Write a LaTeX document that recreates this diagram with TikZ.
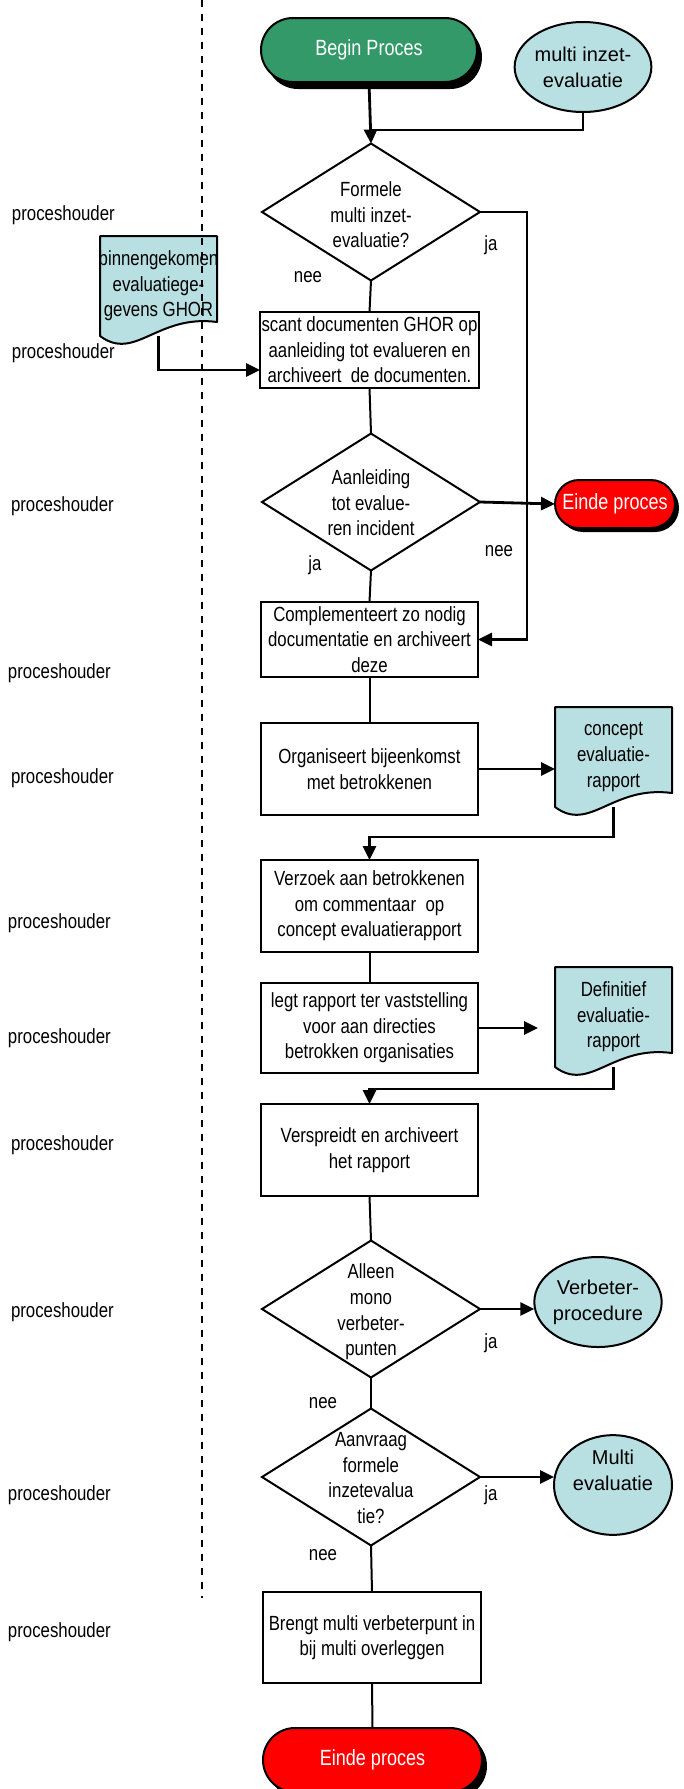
\documentclass[tikz,border=0pt]{standalone}
\usepackage{fontspec}
\setmainfont{Liberation Sans}
\newfontfamily\narrowfam[FakeStretch=0.82]{Liberation Sans}
\usetikzlibrary{shapes.geometric,shapes.misc,arrows.meta,shadows,calc}
\pgfdeclarelayer{background}
\pgfsetlayers{background,main}
\definecolor{procgreen}{RGB}{52,153,104}
\definecolor{docblue}{RGB}{184,223,226}
\definecolor{endred}{RGB}{255,0,0}
\newcommand{\narfont}{\narrowfam\fontsize{20.5}{25.6}\selectfont}
\newcommand{\termfont}{\narrowfam\fontsize{22}{26}\selectfont}
\newcommand{\regfont}{\fontsize{20}{26}\selectfont}
\newcommand{\docshape}[1]{%
  \begin{pgfonlayer}{background}
  \draw[line width=2pt, fill=docblue, line join=round]
    (#1.north west) -- (#1.north east) -- ($(#1.south east)+(0,-14)$)
    .. controls ($(#1.south east)+(-60,-22)$) and ($(#1.south west)+(35,26)$) ..
    (#1.south west) -- cycle;
  \end{pgfonlayer}}
\begin{document}
\begin{tikzpicture}[x=1pt,y=-1pt,
  every node/.style={inner sep=0pt, outer sep=0pt},
  stepbox/.style={draw, line width=2pt, rectangle, minimum width=217pt, font=\narfont, align=center},
  decision/.style={draw, line width=2pt, diamond, minimum width=218pt, minimum height=137pt},
  dtext/.style={font=\narfont, align=center},
  terminal/.style={rounded rectangle, draw, line width=2pt, font=\termfont, text=white},
  docnode/.style={minimum width=117pt, minimum height=100pt, font=\narfont, align=center},
  ellnode/.style={ellipse, draw, line width=2pt, fill=docblue, minimum width=118pt, minimum height=90pt, font=\regfont, align=center},
  conn/.style={line width=2pt},
  arr/.style={line width=2.8pt, -{Triangle[length=14pt,width=13pt]}},
  lbl/.style={font=\narfont},
  lane/.style={font=\narfont, anchor=west},
  swim/.style={line width=1.6pt, dash pattern=on 7pt off 7pt},
]
\useasboundingbox (0,0) rectangle (684,1789);

% swimlane divider
\coordinate (sl0) at (202,0);
\coordinate (sl1) at (202,1598);
\draw[swim] (sl0) -- (sl1);

% lane labels
\node[lane] (p1) at (12,215) {proceshouder};
\node[lane] (p2) at (12,353) {proceshouder};
\node[lane] (p3) at (11,506) {proceshouder};
\node[lane] (p4) at (8,673) {proceshouder};
\node[lane] (p5) at (11,778) {proceshouder};
\node[lane] (p6) at (8,923) {proceshouder};
\node[lane] (p7) at (8,1038) {proceshouder};
\node[lane] (p8) at (11,1145) {proceshouder};
\node[lane] (p9) at (11,1312) {proceshouder};
\node[lane] (p10) at (8,1495) {proceshouder};
\node[lane] (p11) at (8,1632) {proceshouder};

% start
\node[terminal, fill=procgreen, minimum width=216pt, minimum height=64pt,
  drop shadow={shadow xshift=5pt, shadow yshift=-7pt, fill=black, opacity=1}] (begin) at (369,50) {Begin Proces};
\node[ellnode] (mie) at (583,67) {multi inzet-\\evaluatie};

% decision 1
\node[decision] (d1) at (371,212) {};
\node[dtext] (d1t) at (371,215) {Formele\\multi inzet-\\evaluatie?};

% document 1
\node[docnode] (doc1) at (158.5,286) {\makebox[117pt]{binnengekomen}\\evaluatiege-\\gevens GHOR};
\docshape{doc1}

% box 1
\node[stepbox, minimum width=219pt, minimum height=76pt] (box1) at (369.5,350) {\makebox[219pt]{scant documenten GHOR op}\\aanleiding tot evalueren en\\archiveert\ \ de documenten.};

% decision 2
\node[decision] (d2) at (371,502) {};
\node[dtext] (d2t) at (371,503) {Aanleiding\\tot evalue-\\ren incident};
\node[terminal, fill=endred, minimum width=120pt, minimum height=48pt,
  drop shadow={shadow xshift=4pt, shadow yshift=-4pt, fill=black, opacity=1}] (end1) at (615,504) {Einde proces};

% box 2
\node[stepbox, minimum height=75pt] (box2) at (369.5,639.5) {Complementeert zo nodig\\documentatie en archiveert\\deze};

% box 3
\node[stepbox, minimum height=92pt] (box3) at (369.5,769) {Organiseert bijeenkomst\\met betrokkenen};
\node[docnode] (cdoc) at (613.5,757) {concept\\evaluatie-\\rapport};
\docshape{cdoc}

% box 4
\node[stepbox, minimum height=92pt] (box4) at (369.5,906) {Verzoek aan betrokkenen\\om commentaar\ \ op\\concept evaluatierapport};

% box 5
\node[stepbox, minimum height=90pt] (box5) at (369.5,1028) {legt rapport ter vaststelling\\voor aan directies\\betrokken organisaties};
\node[docnode] (ddoc) at (613.5,1017) {Definitief\\evaluatie-\\rapport};
\docshape{ddoc}

% box 6
\node[stepbox, minimum height=92pt] (box6) at (369.5,1150) {Verspreidt en archiveert\\het rapport};

% decision 3
\node[decision] (d3) at (371,1309) {};
\node[dtext] (d3t) at (371,1312) {Alleen\\mono\\verbeter-\\punten};
\node[ellnode] (verb) at (598,1302) {Verbeter-\\procedure};

% decision 4
\node[decision] (d4) at (371,1477) {};
\node[dtext] (d4t) at (371,1478) {Aanvraag\\formele\\inzetevalua\\tie?};
\node[ellnode] (multi) at (613,1485) {Multi\\evaluatie\\[4pt]};

% box 7
\node[stepbox, minimum width=218pt, minimum height=91pt] (box7) at (372,1637.5) {\makebox[218pt]{Brengt multi verbeterpunt in}\\bij multi overleggen};

% end
\node[terminal, fill=endred, minimum width=219pt, minimum height=64pt,
  drop shadow={shadow xshift=5pt, shadow yshift=-6pt, fill=black, opacity=1}] (end2) at (372.5,1760) {Einde proces};

% yes/no labels
\node[lbl] (ja1) at (491,245) {ja};
\node[lbl] (nee1) at (308,277) {nee};
\node[lbl] (nee2) at (499,551) {nee};
\node[lbl] (ja2) at (315,565) {ja};
\node[lbl] (ja3) at (491,1343) {ja};
\node[lbl] (nee3) at (323,1403) {nee};
\node[lbl] (ja4) at (491,1495) {ja};
\node[lbl] (nee4) at (323,1555) {nee};

% connectors
\coordinate (j0) at (371,130);
\draw[arr] (begin.south) -- (d1.north);
\draw[line width=2.8pt] (mie.south) |- (j0);
\draw[conn] (d1.south) -- (box1.north);
\coordinate (jr) at (527,212);
\draw[arr] (d1.east) -- (jr) |- (box2.east);
\coordinate (b1in) at ($(box1.south west)+(0,-18)$);
\draw[arr] (doc1.south) |- (b1in);
\draw[conn] (box1.south) -- (d2.north);
\draw[arr] (d2.east) -- (end1.west);
\draw[conn] (d2.south) -- (box2.north);
\draw[conn] (box2.south) -- (box3.north);
\draw[arr] (box3.east) -- (box3.east -| cdoc.west);
\draw[arr] (cdoc.south) -- ++(0,30) -| (box4.north);
\draw[conn] (box4.south) -- (box5.north);
\draw[arr, shorten >=17pt] (box5.east) -- (box5.east -| ddoc.west);
\draw[arr] (ddoc.south) -- ++(0,22) -| (box6.north);
\draw[conn] (box6.south) -- (d3.north);
\draw[arr] (d3.east) -- (d3.east -| verb.west);
\draw[conn] (d3.south) -- (d4.north);
\draw[arr] (d4.east) -- (d4.east -| multi.west);
\draw[conn] (d4.south) -- (box7.north);
\draw[conn] (box7.south) -- (end2.north);
\end{tikzpicture}
\end{document}
